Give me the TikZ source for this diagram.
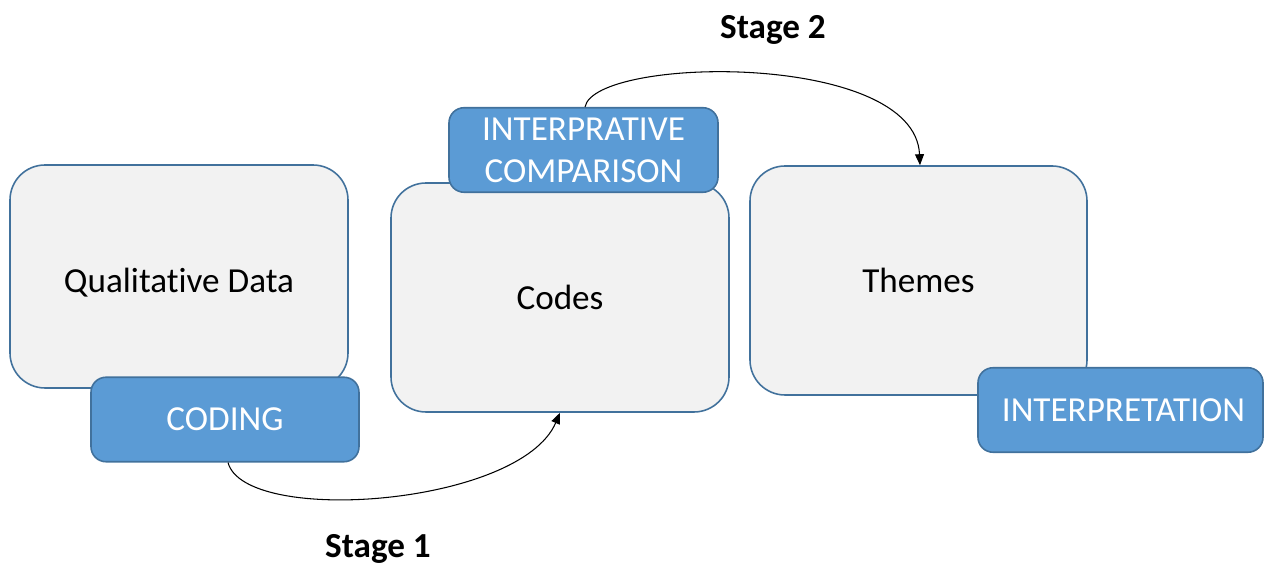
\documentclass[tikz,border=0pt]{standalone}
\usepackage{fontspec}
\setmainfont{Carlito}[Ligatures=NoCommon]
\usetikzlibrary{arrows.meta, positioning}

\definecolor{boxgray}{HTML}{F2F2F2}
\definecolor{boxblue}{HTML}{5B9BD5}
\definecolor{edgeblue}{HTML}{41719C}

\begin{document}
\begin{tikzpicture}[every node/.style={font=\fontsize{20}{23}\selectfont},
  stagebox/.style={draw=edgeblue, line width=0.9pt, fill=boxgray, rounded corners=0.7cm,
    minimum width=6.76cm, minimum height=4.55cm, align=center},
  tagbox/.style={draw=edgeblue, line width=0.9pt, fill=boxblue, text=white, rounded corners=0.3cm,
    minimum width=5.36cm, minimum height=1.69cm, align=center, inner sep=1pt},
  flow/.style={-{Triangle[length=2.2mm, width=1.8mm]}, line width=0.6pt}]
  \useasboundingbox (0,0) rectangle (25.28,11.32);
  % main boxes
  \node[stagebox, minimum height=4.46cm, text height=0.73cm, text depth=0.1cm] (qual) at (3.58,5.79) {Qualitative Data};
  \node[stagebox, minimum height=4.58cm] (codes) at (11.2,5.37) {Codes};
  \node[stagebox, minimum width=6.74cm, minimum height=4.58cm] (themes) at (18.37,5.71) {Themes};
  % labels on top of boxes
  \node[tagbox] (coding) at (4.5,2.93) {CODING};
  \node[tagbox, minimum width=5.38cm, font=\fontsize{20}{24}\selectfont] (comparison) at (11.67,8.32) {INTERPRATIVE\\COMPARISON};
  \node[tagbox, minimum width=5.7cm] (interp) at (22.41,3.12) {\hspace{0.12cm}INTERPRETATION};
  % stage arrows
  \draw[flow] ([xshift=0.06cm]coding.south) .. controls (4.9,0.8) and (10.4,1.2) .. (codes.south);
  \draw[flow] ([xshift=0.03cm]comparison.north) .. controls (11.9,10.2) and (18.3,10.3) .. ([xshift=0.03cm]themes.north);
  \node[font=\fontsize{20}{23}\selectfont\bfseries] (stageone) at (7.56,0.34) {Stage 1};
  \node[font=\fontsize{20}{23}\selectfont\bfseries] (stagetwo) at (15.46,10.72) {Stage 2};
\end{tikzpicture}
\end{document}
